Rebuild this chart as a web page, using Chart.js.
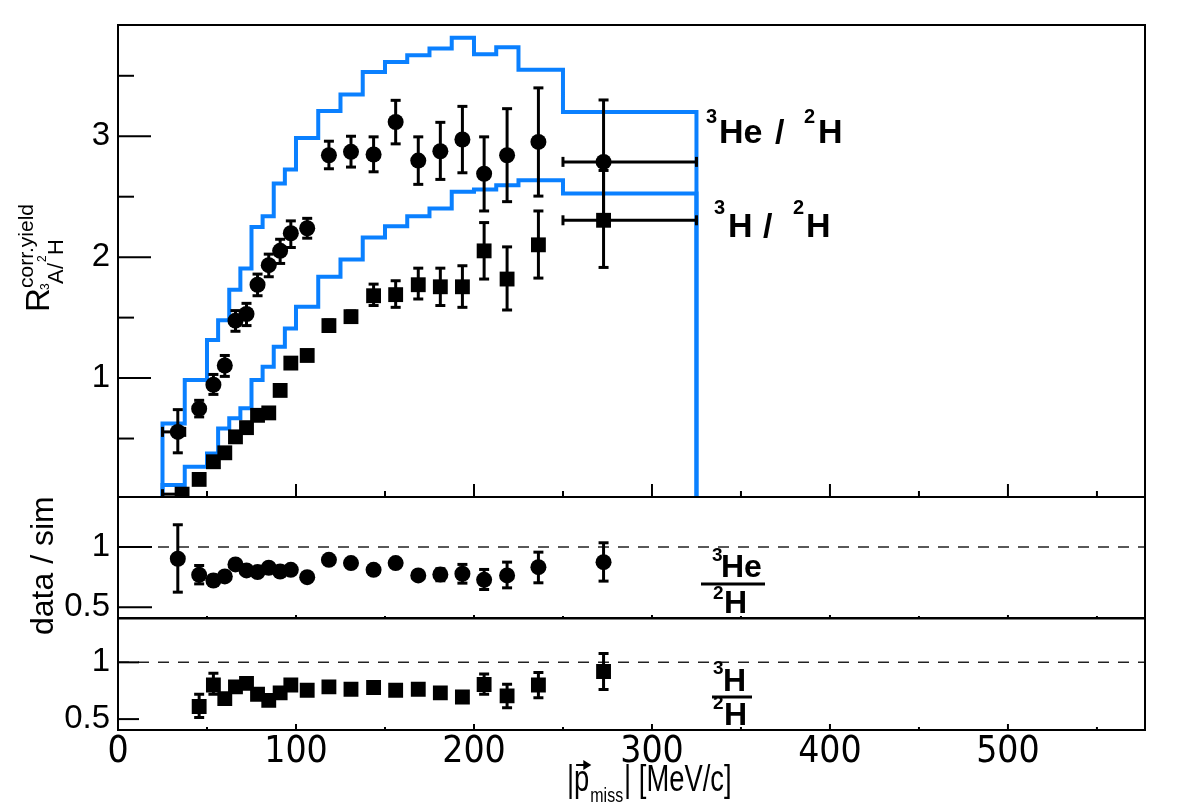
<!DOCTYPE html>
<html>
<head>
<meta charset="utf-8">
<script src="https://cdn.jsdelivr.net/npm/chart.js@4.4.1/dist/chart.umd.min.js"></script>
<style>
  body { margin: 0; background: #fff; }
  #wrap { position: relative; width: 1182px; height: 805px; overflow: hidden; }
  canvas { position: absolute; left: 0; }
</style>
</head>
<body>
<div id="wrap">
  <canvas id="main" width="1182" height="510" style="top:0"></canvas>
  <canvas id="mid" width="1182" height="200" style="top:487px"></canvas>
  <canvas id="low" width="1182" height="197" style="top:608px"></canvas>
</div>
<script>
// simulation histogram bins (MeV/c)
const binEdges = [25, 37.5, 50, 56.25, 62.5, 68.75, 75, 81.25, 87.5, 93.75, 100, 112.5, 125, 137.5, 150, 162.5, 175, 187.5, 200, 212.5, 225, 250, 325];
const simHe3 = [0.625, 0.984, 1.314, 1.479, 1.730, 1.906, 2.25, 2.339, 2.609, 2.725, 2.985, 3.209, 3.346, 3.532, 3.614, 3.669, 3.725, 3.815, 3.678, 3.735, 3.55, 3.2];
const simH3 = [0.116, 0.267, 0.377, 0.584, 0.667, 0.75, 0.984, 1.093, 1.259, 1.41, 1.59, 1.837, 1.981, 2.163, 2.256, 2.339, 2.402, 2.54, 2.559, 2.595, 2.636, 2.526];

// data points
const pmiss = [33.6, 45.6, 53.6, 60, 66, 72.2, 78.4, 84.7, 91.1, 97.1, 106.3, 118.5, 130.9, 143.6, 156, 168.7, 181.1, 193.5, 205.7, 218.6, 236.2, 272.8];
const pmissH3 = [36, 45.6, 53.6, 60, 66, 72.2, 78.4, 84.7, 91.1, 97.1, 106.3, 118.5, 130.9, 143.6, 156, 168.7, 181.1, 193.5, 205.7, 218.6, 236.2, 272.8];
const dataHe3 = [0.555, 0.747, 0.945, 1.104, 1.475, 1.53, 1.772, 1.934, 2.052, 2.198, 2.239, 2.843, 2.871, 2.849, 3.118, 2.799, 2.876, 2.973, 2.69, 2.843, 2.953, 2.788];
const dataHe3Lo = [0.382, 0.679, 0.865, 1.014, 1.387, 1.434, 1.681, 1.838, 1.948, 2.08, 2.157, 2.731, 2.745, 2.706, 2.937, 2.602, 2.643, 2.698, 2.382, 2.459, 2.505, 2.27];
const dataHe3Hi = [0.739, 0.816, 1.03, 1.187, 1.558, 1.618, 1.86, 2.025, 2.148, 2.3, 2.321, 2.959, 3.0, 2.995, 3.297, 2.995, 3.115, 3.247, 2.995, 3.228, 3.40, 3.30];
const dataH3 = [0.04, 0.162, 0.308, 0.382, 0.514, 0.59, 0.692, 0.712, 0.898, 1.124, 1.187, 1.434, 1.508, 1.681, 1.69, 1.772, 1.755, 1.755, 2.052, 1.819, 2.102, 2.305];
const dataH3Lo = [0.01, 0.13, 0.27, 0.35, 0.48, 0.55, 0.65, 0.67, 0.86, 1.08, 1.15, 1.39, 1.46, 1.6, 1.585, 1.654, 1.6, 1.585, 1.819, 1.563, 1.827, 1.915];
const dataH3Hi = [0.07, 0.195, 0.345, 0.415, 0.55, 0.63, 0.735, 0.755, 0.935, 1.165, 1.225, 1.48, 1.555, 1.777, 1.805, 1.909, 1.909, 1.929, 2.286, 2.085, 2.382, 2.717];
// horizontal error bars only on first and last bins
const xBarFirst = [25, 37.5];
const xBarLast = [250, 325];

// data / sim
const ratioHe3 = [0.903, 0.769, 0.722, 0.756, 0.856, 0.806, 0.792, 0.828, 0.797, 0.811, 0.75, 0.894, 0.867, 0.811, 0.867, 0.764, 0.772, 0.778, 0.728, 0.764, 0.833, 0.875];
const ratioHe3Lo = [0.625, 0.694, 0.68, 0.72, 0.83, 0.78, 0.765, 0.8, 0.77, 0.785, 0.725, 0.865, 0.84, 0.785, 0.84, 0.73, 0.72, 0.70, 0.647, 0.661, 0.703, 0.717];
const ratioHe3Hi = [1.186, 0.847, 0.765, 0.79, 0.88, 0.83, 0.82, 0.855, 0.825, 0.84, 0.775, 0.92, 0.895, 0.84, 0.895, 0.80, 0.82, 0.856, 0.814, 0.875, 0.958, 1.036];
const ratioH3 = [0.611, 0.8, 0.68, 0.784, 0.814, 0.719, 0.665, 0.731, 0.8, 0.754, 0.784, 0.763, 0.778, 0.754, 0.763, 0.731, 0.695, 0.805, 0.704, 0.8, 0.919];
const ratioH3Lo = [0.515, 0.719, 0.64, 0.75, 0.78, 0.685, 0.63, 0.7, 0.77, 0.725, 0.755, 0.735, 0.75, 0.725, 0.735, 0.69, 0.655, 0.719, 0.599, 0.689, 0.76];
const ratioH3Hi = [0.719, 0.904, 0.72, 0.82, 0.85, 0.755, 0.7, 0.765, 0.83, 0.785, 0.815, 0.79, 0.805, 0.785, 0.79, 0.77, 0.735, 0.898, 0.808, 0.91, 1.078];

// axes
const xTickValues = [0, 50, 100, 150, 200, 250, 300, 350, 400, 450, 500, 550];
const xTickLabels = [0, 100, 200, 300, 400, 500];
const mainYTicks = [0.5, 1, 1.5, 2, 2.5, 3, 3.5];
const mainYLabels = [1, 2, 3];
const ratioYTicks = [0.5, 1];

const SANS = '"Liberation Sans", Arial, sans-serif';
const NARROW = '"DejaVu Sans Condensed", "Liberation Sans", sans-serif';
const BLUE = 'rgb(10, 128, 255)';
const X_MAX = 577;

function histPoints(vals) {
  const pts = [{ x: binEdges[0], y: 0 }];
  vals.forEach((v, i) => pts.push({ x: binEdges[i], y: v }));
  pts.push({ x: binEdges[binEdges.length - 1], y: 0 });
  return pts;
}

function points(xs, ys) {
  return ys.map((v, i) => ({ x: xs[i], y: v }));
}

function line(ctx, x1, y1, x2, y2) {
  ctx.beginPath();
  ctx.moveTo(x1, y1);
  ctx.lineTo(x2, y2);
  ctx.stroke();
}

function txt(ctx, s, x, y, size, bold) {
  ctx.font = (bold ? 'bold ' : '') + size + 'px ' + SANS;
  ctx.textAlign = 'left';
  ctx.textBaseline = 'alphabetic';
  ctx.fillText(s, x, y);
  return ctx.measureText(s).width;
}

// horizontally squeezed text, returns the drawn width
function txtN(ctx, s, x, y, size, sx) {
  ctx.save();
  ctx.translate(x, y);
  ctx.scale(sx, 1);
  const w = txt(ctx, s, 0, 0, size, false);
  ctx.restore();
  return w * sx;
}

// error bars, drawn right before the markers of their dataset
const errorBars = {
  id: 'errorBars',
  beforeDatasetDraw(chart, args) {
    const ds = chart.data.datasets[args.index];
    if (!ds.errLo) return;
    const { ctx, chartArea: a, scales: { x, y } } = chart;
    ctx.save();
    ctx.beginPath();
    ctx.rect(a.left, a.top, a.right - a.left, a.bottom - a.top);
    ctx.clip();
    ctx.strokeStyle = '#000';
    ctx.lineWidth = 3;
    ds.data.forEach((p, i) => {
      const px = x.getPixelForValue(p.x);
      const py = y.getPixelForValue(p.y);
      const top = y.getPixelForValue(ds.errHi[i]);
      const bot = y.getPixelForValue(ds.errLo[i]);
      line(ctx, px, top, px, bot);
      line(ctx, px - 5, top, px + 5, top);
      line(ctx, px - 5, bot, px + 5, bot);
      const xb = ds.xBars && ds.xBars[i];
      if (xb) {
        const l = x.getPixelForValue(xb[0]);
        const r = x.getPixelForValue(xb[1]);
        line(ctx, l, py, r, py);
        line(ctx, l, py - 5, l, py + 5);
        line(ctx, r, py - 5, r, py + 5);
      }
    });
    ctx.restore();
  }
};

// ROOT style frame with inward ticks
function frame(cfg) {
  return {
    id: 'frame',
    afterDraw(chart) {
      const { ctx, chartArea: a, scales: { x, y } } = chart;
      ctx.save();
      ctx.strokeStyle = '#000';
      ctx.lineWidth = 2;
      cfg.yTicks.forEach(v => {
        const py = y.getPixelForValue(v);
        const len = cfg.yLabels.includes(v) ? cfg.yMajor : cfg.yMinor;
        line(ctx, a.left, py, a.left + len, py);
      });
      xTickValues.forEach(v => {
        const px = x.getPixelForValue(v);
        const len = xTickLabels.includes(v) ? cfg.xMajor : cfg.xMinor;
        line(ctx, px, a.bottom, px, a.bottom - len);
      });
      ctx.strokeRect(a.left, a.top, a.right - a.left, a.bottom - a.top);
      ctx.restore();
      if (cfg.text) cfg.text(ctx);
    }
  };
}

function noPad(s) {
  s.paddingTop = 0;
  s.paddingBottom = 0;
  s.paddingLeft = 0;
  s.paddingRight = 0;
}

function yAxis(min, max, tickVals, labelVals) {
  return {
    type: 'linear',
    min: min,
    max: max,
    afterFit: s => { s.width = 118; noPad(s); },
    afterBuildTicks: s => { s.ticks = tickVals.map(v => ({ value: v })); },
    grid: { display: false, drawTicks: false },
    border: { display: false },
    ticks: {
      autoSkip: false,
      padding: 8,
      color: '#000',
      font: { family: SANS, size: 33 },
      callback: v => (labelVals.includes(v) ? String(v) : '')
    }
  };
}

const hiddenX = { type: 'linear', min: 0, max: X_MAX, display: false };

function markerSet(xs, ys, lo, hi, style, xBars) {
  return {
    data: points(xs, ys),
    errLo: lo,
    errHi: hi,
    xBars: xBars,
    pointStyle: style,
    pointRadius: style === 'rect' ? 10.5 : 8,
    pointBackgroundColor: '#000',
    pointBorderWidth: 0,
    showLine: false,
    clip: 0
  };
}

function histSet(vals) {
  return {
    data: histPoints(vals),
    showLine: true,
    stepped: 'before',
    borderColor: BLUE,
    borderWidth: 4,
    pointRadius: 0,
    fill: false,
    clip: 0
  };
}

function unityLine() {
  return {
    data: [{ x: 0, y: 1 }, { x: X_MAX, y: 1 }],
    showLine: true,
    borderColor: '#222',
    borderWidth: 1.5,
    borderDash: [11, 9],
    pointRadius: 0,
    clip: 0
  };
}

const common = {
  responsive: false,
  animation: false,
  events: [],
  plugins: { legend: { display: false }, tooltip: { enabled: false } }
};

const edgeBars = pmiss.map((v, i) => (i === 0 ? xBarFirst : i === pmiss.length - 1 ? xBarLast : null));

// main panel
new Chart(document.getElementById('main'), {
  type: 'scatter',
  data: {
    datasets: [
      markerSet(pmiss, dataHe3, dataHe3Lo, dataHe3Hi, 'circle', edgeBars),
      markerSet(pmissH3, dataH3, dataH3Lo, dataH3Hi, 'rect', edgeBars),
      histSet(simHe3),
      histSet(simH3)
    ]
  },
  options: {
    ...common,
    layout: { padding: { top: 25, right: 37, bottom: 13, left: 0 } },
    scales: { x: hiddenX, y: yAxis(0.0165, 3.92, mainYTicks, mainYLabels) }
  },
  plugins: [errorBars, frame({
    yTicks: mainYTicks, yLabels: mainYLabels, yMajor: 33, yMinor: 16, xMajor: 13, xMinor: 6,
    text(ctx) {
      ctx.fillStyle = '#000';
      txt(ctx, '3', 706, 123, 20, true);
      txt(ctx, 'He', 719, 143, 34, true);
      txt(ctx, '/', 775, 143, 34, true);
      txt(ctx, '2', 804, 123, 20, true);
      txt(ctx, 'H', 818, 143, 34, true);
      txt(ctx, '3', 714, 214, 20, true);
      txt(ctx, 'H', 728, 237, 34, true);
      txt(ctx, '/', 763, 237, 34, true);
      txt(ctx, '2', 793, 214, 20, true);
      txt(ctx, 'H', 806, 237, 34, true);
      // y title, rotated
      ctx.save();
      ctx.translate(49, 312);
      ctx.rotate(-Math.PI / 2);
      txt(ctx, 'R', 0, 0, 33);
      txt(ctx, 'corr.yield', 24, -16, 21);
      txt(ctx, '3', 22, 0, 12);
      txt(ctx, 'A', 28, 14, 22);
      txt(ctx, '/', 43, 14, 22);
      txt(ctx, '2', 50, -3, 12);
      txt(ctx, 'H', 57, 14, 22);
      ctx.restore();
    }
  })]
});

// 3He ratio panel
new Chart(document.getElementById('mid'), {
  type: 'scatter',
  data: {
    datasets: [
      markerSet(pmiss, ratioHe3, ratioHe3Lo, ratioHe3Hi, 'circle', null),
      unityLine()
    ]
  },
  options: {
    ...common,
    layout: { padding: { top: 10, right: 37, bottom: 69, left: 0 } },
    scales: { x: hiddenX, y: yAxis(0.41, 1.417, ratioYTicks, ratioYTicks) }
  },
  plugins: [errorBars, frame({
    yTicks: ratioYTicks, yLabels: ratioYTicks, yMajor: 34, yMinor: 0, xMajor: 3, xMinor: 2,
    text(ctx) {
      const o = 487;
      ctx.fillStyle = '#000';
      txt(ctx, '3', 712, 561 - o, 19, true);
      txt(ctx, 'He', 721, 577 - o, 32, true);
      txt(ctx, '2', 713, 599 - o, 19, true);
      txt(ctx, 'H', 724, 613 - o, 32, true);
      ctx.strokeStyle = '#000';
      ctx.lineWidth = 3;
      line(ctx, 701, 584 - o, 765, 584 - o);
      ctx.save();
      ctx.translate(53, 635 - o);
      ctx.rotate(-Math.PI / 2);
      txt(ctx, 'data / sim', 0, 0, 32);
      ctx.restore();
    }
  })]
});

// 3H ratio panel with the x axis
new Chart(document.getElementById('low'), {
  type: 'scatter',
  data: {
    datasets: [
      markerSet(pmiss.slice(1), ratioH3, ratioH3Lo, ratioH3Hi, 'rect', null),
      unityLine()
    ]
  },
  options: {
    ...common,
    layout: { padding: { top: 10, right: 37, bottom: 0, left: 0 } },
    scales: {
      x: {
        type: 'linear',
        min: 0,
        max: X_MAX,
        afterFit: s => { s.height = 75; noPad(s); },
        afterBuildTicks: s => { s.ticks = xTickValues.map(v => ({ value: v })); },
        grid: { display: false, drawTicks: false },
        border: { display: false },
        ticks: {
          autoSkip: false,
          maxRotation: 0,
          padding: 0,
          color: '#000',
          font: { family: NARROW, size: 37 },
          callback: v => (xTickLabels.includes(v) ? String(v) : '')
        }
      },
      y: yAxis(0.404, 1.386, ratioYTicks, ratioYTicks)
    }
  },
  plugins: [errorBars, frame({
    yTicks: ratioYTicks, yLabels: ratioYTicks, yMajor: 21, yMinor: 0, xMajor: 6, xMinor: 3,
    text(ctx) {
      const o = 608;
      ctx.fillStyle = '#000';
      txt(ctx, '3', 713, 674 - o, 19, true);
      txt(ctx, 'H', 723, 691 - o, 32, true);
      txt(ctx, '2', 713, 709 - o, 19, true);
      txt(ctx, 'H', 724, 725 - o, 32, true);
      ctx.strokeStyle = '#000';
      ctx.lineWidth = 3;
      line(ctx, 712, 697 - o, 752, 697 - o);
      // x title |p_miss| [MeV/c]
      const sx = 0.76;
      let x = 567;
      x += txtN(ctx, '|', x, 791 - o, 36, sx);
      const pw = txtN(ctx, 'p', x, 791 - o, 36, sx);
      ctx.lineWidth = 2;
      line(ctx, x + 2, 765 - o, x + pw, 765 - o);
      ctx.beginPath();
      ctx.moveTo(x + pw + 2, 765 - o);
      ctx.lineTo(x + pw - 6, 760 - o);
      ctx.lineTo(x + pw - 6, 770 - o);
      ctx.closePath();
      ctx.fill();
      x += pw + 1;
      x += txtN(ctx, 'miss', x, 802 - o, 21, sx) + 1;
      txtN(ctx, '| [MeV/c]', x, 791 - o, 36, sx);
    }
  })]
});
</script>
</body>
</html>
